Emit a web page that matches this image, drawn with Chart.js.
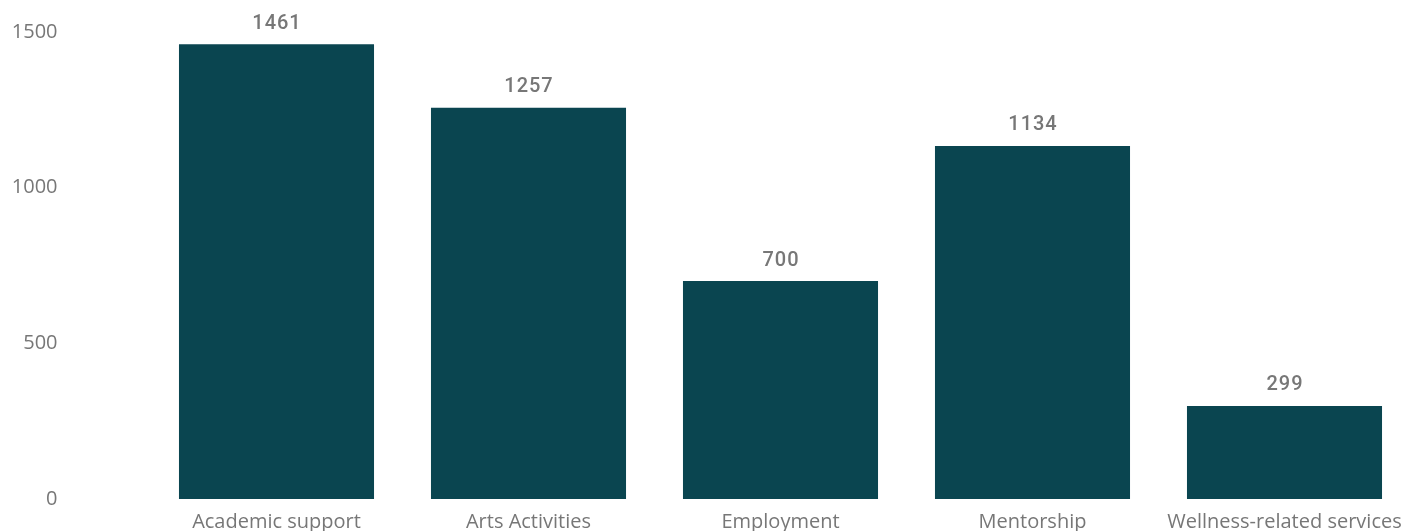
<!DOCTYPE html>
<html>
<head>
<meta charset="utf-8">
<script src="https://cdn.jsdelivr.net/npm/chart.js@4.4.1/dist/chart.umd.min.js"></script>
<style>
html,body{margin:0;padding:0;background:#fff;}
#wrap{width:1414px;height:531px;}
</style>
</head>
<body>
<div id="wrap"><canvas id="c" width="1414" height="531"></canvas></div>
<script>
const categories = ["Academic support", "Arts Activities", "Employment", "Mentorship", "Wellness-related services"];
const values = [1461, 1257, 700, 1134, 299];
const yTicks = [0, 500, 1000, 1500];

const valueLabels = {
  id: 'valueLabels',
  afterDatasetsDraw(chart) {
    const ctx = chart.ctx;
    const meta = chart.getDatasetMeta(0);
    ctx.save();
    ctx.font = '500 20px Roboto';
    ctx.fillStyle = '#777777';
    ctx.textAlign = 'center';
    ctx.textBaseline = 'alphabetic';
    if ('letterSpacing' in ctx) ctx.letterSpacing = '1px';
    meta.data.forEach((bar, i) => {
      ctx.fillText(String(values[i]), bar.x + 0.5, bar.y - 15.5);
    });
    ctx.restore();
  }
};

new Chart(document.getElementById('c'), {
  type: 'bar',
  data: {
    labels: categories,
    datasets: [{
      data: values,
      backgroundColor: '#0a4550',
      borderWidth: 0,
      categoryPercentage: 1,
      barPercentage: 0.774
    }]
  },
  options: {
    responsive: false,
    devicePixelRatio: 1,
    animation: false,
    layout: { padding: { top: 32, right: 3.5, left: 0, bottom: 0 } },
    plugins: { legend: { display: false }, tooltip: { enabled: false } },
    scales: {
      x: {
        grid: { display: false },
        border: { display: false },
        ticks: {
          color: '#777777',
          font: { family: 'Open Sans', size: 20 },
          padding: 3,
          maxRotation: 0,
          autoSkip: false
        },
        afterFit(scale) { scale.height = 32; scale.paddingLeft = 0; scale.paddingRight = 0; }
      },
      y: {
        min: 0,
        max: 1500,
        grid: { display: false },
        border: { display: false },
        afterBuildTicks(scale) { scale.ticks = yTicks.map(v => ({ value: v })); },
        ticks: {
          color: '#777777',
          font: { family: 'Open Sans', size: 20 },
          padding: 85,
          callback: (v) => String(v)
        },
        afterFit(scale) { scale.width = 150.5; scale.paddingTop = 0; scale.paddingBottom = 0; }
      }
    }
  },
  plugins: [valueLabels]
});
</script>
</body>
</html>
